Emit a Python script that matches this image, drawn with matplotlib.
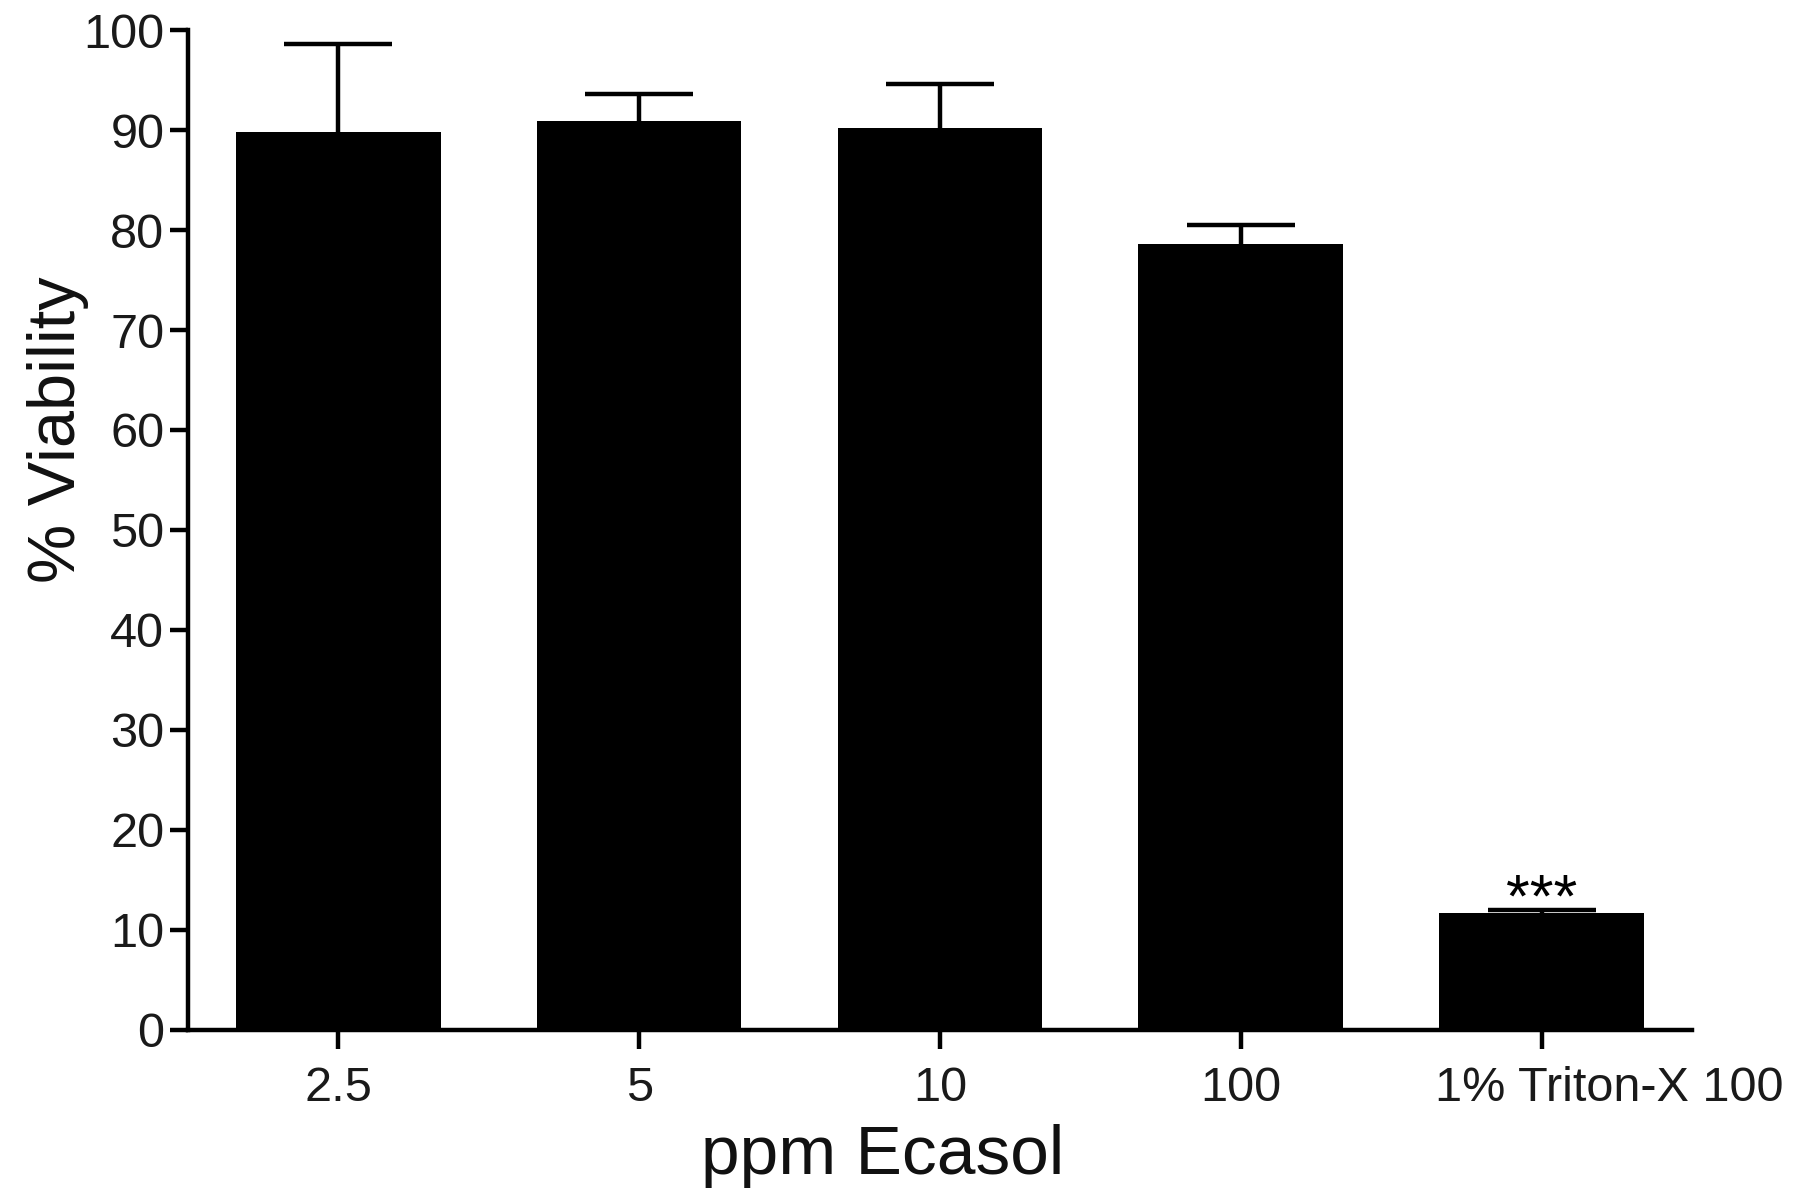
import numpy as np
import matplotlib
matplotlib.use('Agg')
import matplotlib.pyplot as plt
import matplotlib.transforms as mtransforms

plt.rcParams['font.family'] = ['Liberation Sans', 'DejaVu Sans']

# data
groups = ['2.5', '5', '10', '100', '1% Triton-X 100']
viability = [89.8, 90.9, 90.2, 78.6, 11.7]
err_up = [8.8, 2.7, 4.4, 1.9, 0.3]
stars = ['', '', '', '', '***']

fig = plt.figure(figsize=(17.95, 11.91), dpi=100)
ax = fig.add_axes([0.1047, 0.1352, 0.8379, 0.8396])

x = np.arange(len(groups))
ax.bar(x, viability, width=0.68, color='black', zorder=2)
# symmetric bars drawn behind the bars, so only the upper half shows
ax.errorbar(x, viability, yerr=err_up, fmt='none',
            ecolor='black', elinewidth=3.2, capsize=39, capthick=3.2, zorder=1)

for i in range(len(groups)):
    if stars[i] != '':
        ax.text(x[i], viability[i] - 0.3, stars[i], ha='center', va='baseline',
                fontsize=44, zorder=3)

ax.set_xlim(-0.5, 4.5)
ax.set_ylim(0, 100)
ax.set_yticks(np.arange(0, 101, 10))
ax.set_xticks(x)
ax.set_xticklabels(groups)

for s in ['top', 'right']:
    ax.spines[s].set_visible(False)
for s in ['left', 'bottom']:
    ax.spines[s].set_linewidth(3.2)
ax.tick_params(axis='both', width=3.2, labelsize=35, color='black', labelcolor='#1a1a1a')
ax.tick_params(axis='x', length=14, pad=12)
ax.tick_params(axis='y', length=13, pad=4)

# the long last label sits off to the right of its tick in the original
last = ax.get_xticklabels()[-1]
last.set_transform(last.get_transform() + mtransforms.ScaledTranslation(0.68, 0, fig.dpi_scale_trans))

ax.set_ylabel('% Viability', fontsize=48, color='#111111')
ax.yaxis.set_label_coords(-0.066, 0.60)
ax.set_xlabel('ppm Ecasol', fontsize=50, color='#111111')
ax.xaxis.set_label_coords(0.462, -0.094)

plt.savefig('out.png', dpi=100)
